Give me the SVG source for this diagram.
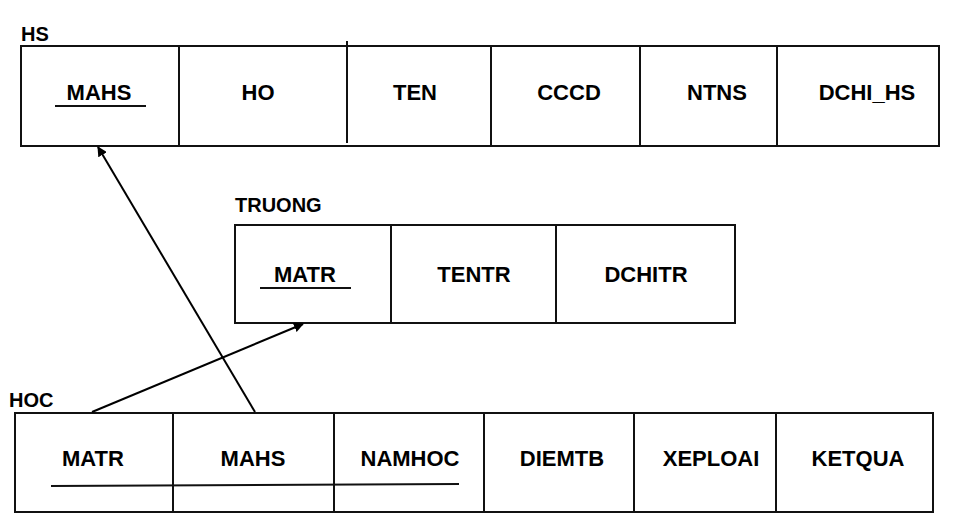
<svg xmlns="http://www.w3.org/2000/svg" width="957" height="532" viewBox="0 0 957 532">
<style>
.box{fill:#fff;stroke:#111;stroke-width:2}
.div{stroke:#111;stroke-width:2}
.t{font-family:"Liberation Sans",Arial,sans-serif;font-weight:bold;font-size:22px;fill:#000;text-anchor:middle}
.lbl{font-family:"Liberation Sans",Arial,sans-serif;font-weight:bold;font-size:20px;fill:#000}
.ul{stroke:#111;stroke-width:2}
.conn{stroke:#000;stroke-width:2;fill:none}
</style>
<defs>
<marker id="ah" viewBox="0 0 10 10" refX="9" refY="5" markerWidth="5" markerHeight="5" orient="auto" markerUnits="strokeWidth">
<path d="M0,0 L10,5 L0,10 z" fill="#000"/>
</marker>
</defs>
<rect width="957" height="532" fill="#fff"/>
<g id="HS">
<text class="lbl" x="21" y="41">HS</text>
<rect class="box" x="21" y="46" width="918" height="100"/>
<line class="div" x1="179" y1="46" x2="179" y2="146"/>
<line class="div" x1="347" y1="41" x2="347" y2="143"/>
<line class="div" x1="491" y1="46" x2="491" y2="146"/>
<line class="div" x1="640" y1="46" x2="640" y2="146"/>
<line class="div" x1="777" y1="46" x2="777" y2="146"/>
<text class="t" x="99" y="100">MAHS</text>
<line class="ul" x1="55" y1="106" x2="146" y2="106"/>
<text class="t" x="258" y="100">HO</text>
<text class="t" x="415" y="100">TEN</text>
<text class="t" x="569" y="100">CCCD</text>
<text class="t" x="717" y="100">NTNS</text>
<text class="t" x="867" y="100">DCHI_HS</text>
</g>
<g id="TRUONG">
<text class="lbl" x="235" y="212">TRUONG</text>
<rect class="box" x="235" y="225" width="500" height="98"/>
<line class="div" x1="391" y1="225" x2="391" y2="323"/>
<line class="div" x1="556" y1="225" x2="556" y2="323"/>
<text class="t" x="305" y="282">MATR</text>
<line class="ul" x1="260" y1="288" x2="351" y2="288"/>
<text class="t" x="474" y="282">TENTR</text>
<text class="t" x="646" y="282">DCHITR</text>
</g>
<g id="HOC">
<text class="lbl" x="9" y="407">HOC</text>
<rect class="box" x="15" y="413" width="918" height="99"/>
<line class="div" x1="173" y1="413" x2="173" y2="512"/>
<line class="div" x1="334" y1="413" x2="334" y2="512"/>
<line class="div" x1="484" y1="413" x2="484" y2="512"/>
<line class="div" x1="634" y1="413" x2="634" y2="512"/>
<line class="div" x1="776" y1="413" x2="776" y2="512"/>
<text class="t" x="93" y="466">MATR</text>
<text class="t" x="253" y="466">MAHS</text>
<text class="t" x="410" y="466">NAMHOC</text>
<text class="t" x="562" y="466">DIEMTB</text>
<text class="t" x="711" y="466">XEPLOAI</text>
<text class="t" x="858" y="466">KETQUA</text>
<line class="ul" x1="51" y1="486" x2="459" y2="484"/>
</g>
<g id="connectors">
<line class="conn" x1="92" y1="412" x2="303" y2="324" marker-end="url(#ah)"/>
<line class="conn" x1="255" y1="412" x2="98" y2="147" marker-end="url(#ah)"/>
</g>
</svg>
